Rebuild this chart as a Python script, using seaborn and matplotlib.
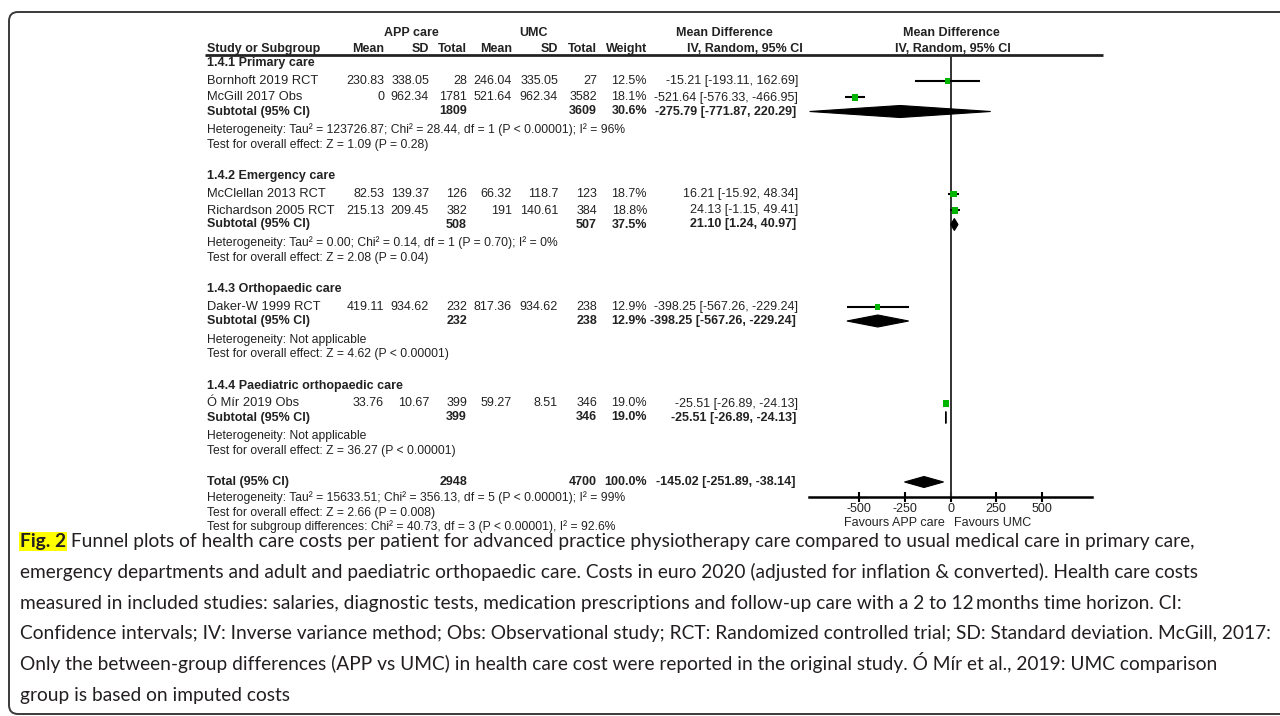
"""
Forest plot of health care costs per patient: APP care vs usual medical care (UMC)
"""

import numpy as np
import pandas as pd
import matplotlib.pyplot as plt
import seaborn as sns
from matplotlib.patches import FancyBboxPatch

# ====== 1. Data ======
studies = ["Bornhoft 2019 RCT", "McGill 2017 Obs", "McClellan 2013 RCT",
           "Richardson 2005 RCT", "Daker-W 1999 RCT", "Ó Mír 2019 Obs"]
study_group = [0, 0, 1, 1, 2, 3]
app_mean = [230.83, 0, 82.53, 215.13, 419.11, 33.76]
app_sd = [338.05, 962.34, 139.37, 209.45, 934.62, 10.67]
app_total = [28, 1781, 126, 382, 232, 399]
umc_mean = [246.04, 521.64, 66.32, 191, 817.36, 59.27]
umc_sd = [335.05, 962.34, 118.7, 140.61, 934.62, 8.51]
umc_total = [27, 3582, 123, 384, 238, 346]
weight = [12.5, 18.1, 18.7, 18.8, 12.9, 19.0]
md = [-15.21, -521.64, 16.21, 24.13, -398.25, -25.51]
md_lo = [-193.11, -576.33, -15.92, -1.15, -567.26, -26.89]
md_hi = [162.69, -466.95, 48.34, 49.41, -229.24, -24.13]

groups = ["1.4.1 Primary care", "1.4.2 Emergency care",
          "1.4.3 Orthopaedic care", "1.4.4 Paediatric orthopaedic care"]
sub_app_total = [1809, 508, 232, 399]
sub_umc_total = [3609, 507, 238, 346]
sub_weight = [30.6, 37.5, 12.9, 19.0]
sub_md = [-275.79, 21.10, -398.25, -25.51]
sub_lo = [-771.87, 1.24, -567.26, -26.89]
sub_hi = [220.29, 40.97, -229.24, -24.13]
sub_het = ["Heterogeneity: Tau² = 123726.87; Chi² = 28.44, df = 1 (P < 0.00001); I² = 96%",
           "Heterogeneity: Tau² = 0.00; Chi² = 0.14, df = 1 (P = 0.70); I² = 0%",
           "Heterogeneity: Not applicable",
           "Heterogeneity: Not applicable"]
sub_test = ["Test for overall effect: Z = 1.09 (P = 0.28)",
            "Test for overall effect: Z = 2.08 (P = 0.04)",
            "Test for overall effect: Z = 4.62 (P < 0.00001)",
            "Test for overall effect: Z = 36.27 (P < 0.00001)"]

total_app = 2948
total_umc = 4700
total_weight = 100.0
total_md, total_lo, total_hi = -145.02, -251.89, -38.14
total_notes = ["Heterogeneity: Tau² = 15633.51; Chi² = 356.13, df = 5 (P < 0.00001); I² = 99%",
               "Test for overall effect: Z = 2.66 (P = 0.008)",
               "Test for subgroup differences: Chi² = 40.73, df = 3 (P < 0.00001), I² = 92.6%"]

x_ticks = [-500, -250, 0, 250, 500]
favours = ["Favours APP care", "Favours UMC"]

caption_head = "Fig. 2"
caption_lines = [
    " Funnel plots of health care costs per patient for advanced practice physiotherapy care compared to usual medical care in primary care,",
    "emergency departments and adult and paediatric orthopaedic care. Costs in euro 2020 (adjusted for inflation & converted). Health care costs",
    "measured in included studies: salaries, diagnostic tests, medication prescriptions and follow-up care with a 2 to 12\u2009months time horizon. CI:",
    "Confidence intervals; IV: Inverse variance method; Obs: Observational study; RCT: Randomized controlled trial; SD: Standard deviation. McGill, 2017:",
    "Only the between-group differences (APP vs UMC) in health care cost were reported in the original study. Ó Mír et al., 2019: UMC comparison",
    "group is based on imputed costs",
]

# ====== 2. Style / layout ======
sns.set_theme(style="white")
plt.rcParams["font.family"] = ["Liberation Sans", "DejaVu Sans"]
plt.rcParams["axes.unicode_minus"] = False

INK = "#222222"
GREEN = "#00B400"
FS = 9.3        # study names
FS_BOLD = 9.0   # headers, subtotals
FS_NUM = 9.0    # numeric columns, axis text
FS_NOTE = 8.75  # heterogeneity / test lines

# column anchors (pixels)
X_STUDY = 207
X_APP_MEAN, X_APP_SD, X_APP_N = 384, 429, 467
X_UMC_MEAN, X_UMC_SD, X_UMC_N = 512, 558, 597
X_WEIGHT, X_MD = 647, 798

# row positions (pixels from top)
head_y, study_y, sub_y, het_y, test_y = [], [], [], [], []
y = 63
for g in range(len(groups)):
    head_y.append(y)
    y += 18
    for k in [i for i, s in enumerate(study_group) if s == g]:
        study_y.append(y)
        y += 16.5
    y += 14 - 16.5
    sub_y.append(y)
    y += 18.5
    het_y.append(y)
    y += 15
    test_y.append(y)
    y += 31
total_y = y
notes_y = [total_y + 16, total_y + 31, total_y + 45]

fig = plt.figure(figsize=(12.8, 7.16), dpi=100)
tab = fig.add_axes([0, 0, 1, 1])
tab.set_xlim(0, 1280)
tab.set_ylim(716, 0)
tab.axis("off")

AX_TOP, AX_BOT = 55, 497
fp = fig.add_axes([809 / 1280, 1 - AX_BOT / 716, 283 / 1280, (AX_BOT - AX_TOP) / 716])
fp.patch.set_alpha(0)


def put(x, y, s, ha="left", bold=False, size=FS):
    tab.text(x, y, s, ha=ha, va="center", fontsize=size,
             fontweight="bold" if bold else "normal", color=INK)


# ====== 3. Frame and headers ======
tab.add_patch(FancyBboxPatch((9, 12), 1320, 702, boxstyle="round,pad=0,rounding_size=9",
                             fc="none", ec="#3a3a3a", lw=1.4))
tab.plot([205, 1103], [AX_TOP, AX_TOP], color=INK, lw=2, solid_capstyle="butt")

put(411, 33, "APP care", ha="center", bold=True, size=FS_BOLD)
put(533, 33, "UMC", ha="center", bold=True, size=FS_BOLD)
put(724, 33, "Mean Difference", ha="center", bold=True, size=FS_BOLD)
put(951, 33, "Mean Difference", ha="center", bold=True, size=FS_BOLD)
put(X_STUDY, 49, "Study or Subgroup", bold=True, size=FS_BOLD)
for xx, lab in [(X_APP_MEAN, "Mean"), (X_APP_SD, "SD"), (X_APP_N, "Total"),
                (X_UMC_MEAN, "Mean"), (X_UMC_SD, "SD"), (X_UMC_N, "Total"),
                (X_WEIGHT, "Weight"), (803, "IV, Random, 95% CI")]:
    put(xx, 49, lab, ha="right", bold=True, size=FS_BOLD)
put(953, 49, "IV, Random, 95% CI", ha="center", bold=True, size=FS_BOLD)

# ====== 4. Table text ======
ci_txt = lambda m, l, h: f"{m:.2f} [{l:.2f}, {h:.2f}]"

for i, name in enumerate(studies):
    yy = study_y[i]
    put(X_STUDY, yy, name)
    put(X_APP_MEAN, yy, f"{app_mean[i]:g}", ha="right", size=FS_NUM)
    put(X_APP_SD, yy, f"{app_sd[i]:g}", ha="right", size=FS_NUM)
    put(X_APP_N, yy, f"{app_total[i]}", ha="right", size=FS_NUM)
    put(X_UMC_MEAN, yy, f"{umc_mean[i]:g}", ha="right", size=FS_NUM)
    put(X_UMC_SD, yy, f"{umc_sd[i]:g}", ha="right", size=FS_NUM)
    put(X_UMC_N, yy, f"{umc_total[i]}", ha="right", size=FS_NUM)
    put(X_WEIGHT, yy, f"{weight[i]:.1f}%", ha="right", size=FS_NUM)
    put(X_MD, yy, ci_txt(md[i], md_lo[i], md_hi[i]), ha="right", size=FS_NUM)

for g, gname in enumerate(groups):
    put(X_STUDY, head_y[g], gname, bold=True, size=FS_BOLD)
    put(X_STUDY, sub_y[g], "Subtotal (95% CI)", bold=True, size=FS_BOLD)
    put(X_APP_N, sub_y[g], f"{sub_app_total[g]}", ha="right", bold=True, size=FS_NUM)
    put(X_UMC_N, sub_y[g], f"{sub_umc_total[g]}", ha="right", bold=True, size=FS_NUM)
    put(X_WEIGHT, sub_y[g], f"{sub_weight[g]:.1f}%", ha="right", bold=True, size=FS_NUM)
    put(X_MD - 2, sub_y[g], ci_txt(sub_md[g], sub_lo[g], sub_hi[g]), ha="right",
        bold=True, size=FS_NUM)
    put(X_STUDY, het_y[g], sub_het[g], size=FS_NOTE)
    put(X_STUDY, test_y[g], sub_test[g], size=FS_NOTE)

put(X_STUDY, total_y, "Total (95% CI)", bold=True, size=FS_BOLD)
put(X_APP_N, total_y, f"{total_app}", ha="right", bold=True, size=FS_NUM)
put(X_UMC_N, total_y, f"{total_umc}", ha="right", bold=True, size=FS_NUM)
put(X_WEIGHT, total_y, f"{total_weight:.1f}%", ha="right", bold=True, size=FS_NUM)
put(X_MD - 2, total_y, ci_txt(total_md, total_lo, total_hi), ha="right", bold=True, size=FS_NUM)
for yy, note in zip(notes_y, total_notes):
    put(X_STUDY, yy, note, size=FS_NOTE)

# ====== 5. Forest panel ======
fp.axvline(0, color="#333333", lw=1.4, zorder=1)
fp.hlines(study_y, md_lo, md_hi, color="black", lw=1.5, zorder=2)

pts = pd.DataFrame({"md": md, "row": study_y, "weight": weight})
sns.scatterplot(data=pts, x="md", y="row", size="weight", sizes=(0, 23), size_norm=(0, 20),
                marker="s", color=GREEN, linewidth=0, legend=False, ax=fp, zorder=3)

for m, l, h, yy in zip(sub_md, sub_lo, sub_hi, sub_y):
    fp.fill([l, m, h, m], [yy, yy - 6, yy, yy + 6], color="black", lw=0.8, zorder=3)
fp.fill([total_lo, total_md, total_hi, total_md],
        [total_y, total_y - 5.5, total_y, total_y + 5.5], color="black", lw=0.8, zorder=3)

fp.set_xlim(-775, 775)
fp.set_ylim(AX_BOT, AX_TOP)
fp.set_xlabel("")
fp.set_ylabel("")
fp.set_yticks([])
fp.set_xticks(x_ticks)
fp.set_xticklabels([str(t) for t in x_ticks])
sns.despine(ax=fp, left=True)
fp.spines["bottom"].set_color("black")
fp.spines["bottom"].set_linewidth(1.8)
fp.tick_params(axis="x", bottom=True, direction="inout", length=7, width=1.5,
               color="black", labelsize=FS_NUM, labelcolor=INK, pad=1)

put(945, 523, favours[0], ha="right", size=FS_NUM)
put(954, 523, favours[1], ha="left", size=FS_NUM)

# ====== 6. Caption ======
cap_base = [547 + 30.8 * k for k in range(len(caption_lines))]
CAP_INK = "#231F20"
cap_font = ["Lato", "DejaVu Sans"]
head = tab.text(20, cap_base[0], caption_head, ha="left", va="baseline", fontsize=14,
                fontweight="bold", family=cap_font, color=CAP_INK,
                bbox=dict(boxstyle="square,pad=0.05", fc="#FFFF00", ec="none"))
cap_texts = [tab.text(20, yy, line, ha="left", va="baseline", fontsize=14,
                      family=cap_font, color=CAP_INK)
             for yy, line in zip(cap_base, caption_lines)]

# fit the caption size so that the widest line stays inside the frame
for _ in range(3):
    fig.canvas.draw()
    cap_texts[0].set_x(head.get_window_extent().x1)
    fig.canvas.draw()
    right = max(t.get_window_extent().x1 for t in cap_texts)
    scale = (1266 - 20) / (right - 20)
    fs = head.get_fontsize() * scale
    head.set_fontsize(fs)
    for t in cap_texts:
        t.set_fontsize(fs)
fig.canvas.draw()
cap_texts[0].set_x(head.get_window_extent().x1)

fig.savefig("out.png", dpi=100)
